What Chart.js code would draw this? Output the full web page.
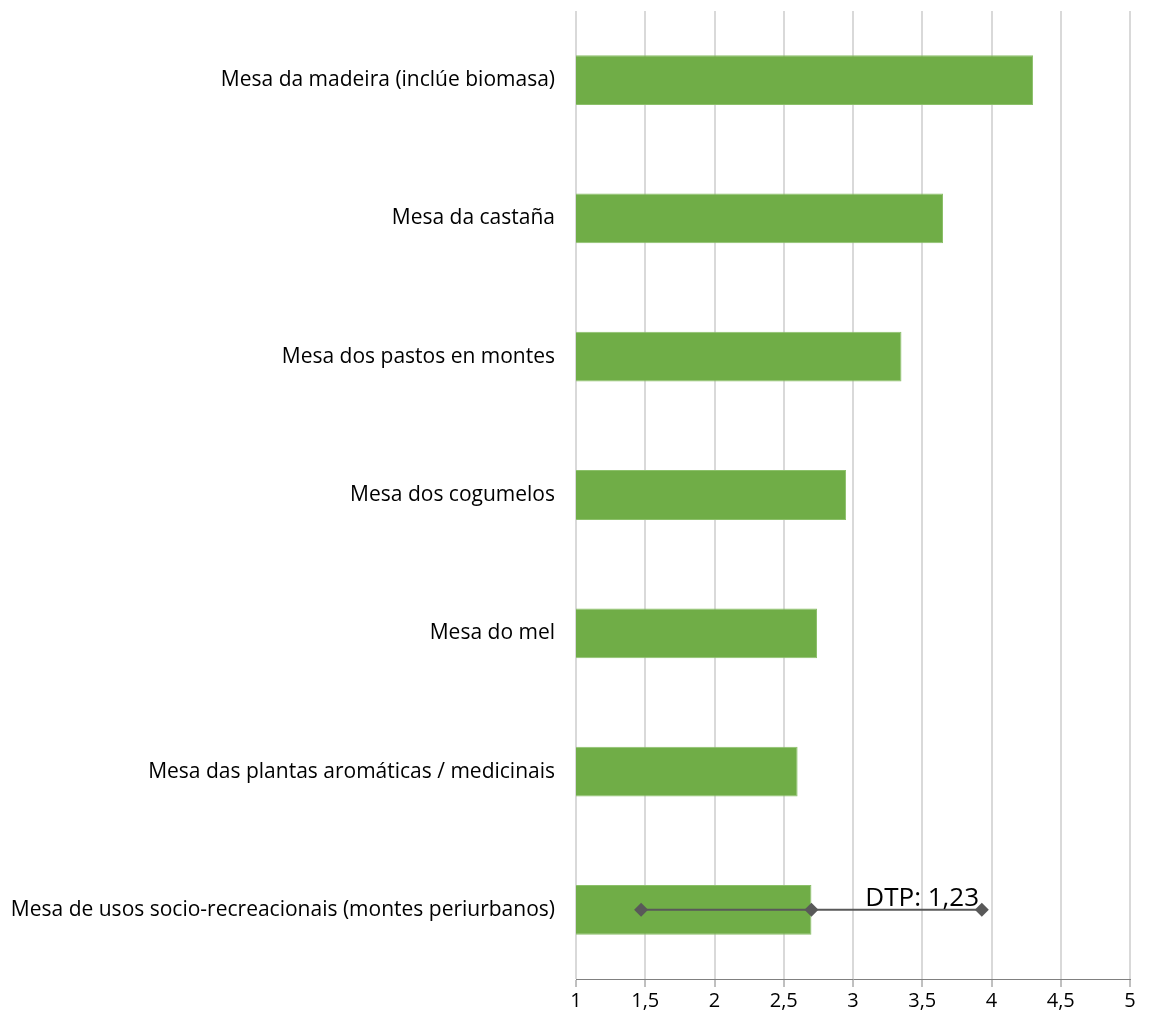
<!DOCTYPE html>
<html>
<head>
<meta charset="utf-8">
<script src="https://cdn.jsdelivr.net/npm/chart.js@4"></script>
<style>
  html, body { margin: 0; padding: 0; background: #fff; }
  #wrap { width: 1151px; height: 1020px; }
</style>
</head>
<body>
<div id="wrap"><canvas id="c" width="1151" height="1020"></canvas></div>
<script>
var categories = [
    "Mesa da madeira (inclúe biomasa)",
    "Mesa da castaña",
    "Mesa dos pastos en montes",
    "Mesa dos cogumelos",
    "Mesa do mel",
    "Mesa das plantas aromáticas / medicinais",
    "Mesa de usos socio-recreacionais (montes periurbanos)"
];
var means = [4.30, 3.65, 3.35, 2.95, 2.74, 2.60, 2.70];
var dtpCategory = 6;
var dtp = 1.23;
var dtpLabel = "DTP: 1,23";
var xMin = 1, xMax = 5, xStep = 0.5;

var errPoints = [
    { x: means[dtpCategory] - dtp, y: categories[dtpCategory] },
    { x: means[dtpCategory], y: categories[dtpCategory] },
    { x: means[dtpCategory] + dtp, y: categories[dtpCategory] }
];

var font = "'Open Sans', sans-serif";

// text label above the deviation line
var dtpText = {
    id: 'dtpText',
    afterDatasetsDraw: function(chart) {
        var c = chart.ctx;
        var xs = chart.scales.x, ys = chart.scales.y;
        var px = xs.getPixelForValue(means[dtpCategory] + dtp * 0.65);
        var py = ys.getPixelForValue(dtpCategory);
        c.save();
        c.font = "26px " + font;
        c.fillStyle = "#000";
        c.textAlign = "center";
        c.textBaseline = "alphabetic";
        c.fillText(dtpLabel, px, py - 4);
        c.restore();
    }
};

var ctx = document.getElementById("c").getContext("2d");
var chart = new Chart(ctx, {
    data: {
        labels: categories,
        datasets: [{
            type: 'scatter',
            data: errPoints,
            showLine: true,
            borderColor: '#595959',
            borderWidth: 2,
            backgroundColor: '#595959',
            pointStyle: 'rectRot',
            pointRadius: 7,
            pointBorderWidth: 0,
            order: 0
        }, {
            type: 'bar',
            data: means,
            backgroundColor: '#70AD47',
            borderColor: '#8CC06A',
            borderWidth: 1,
            barPercentage: 0.36,
            categoryPercentage: 1,
            order: 1
        }]
    },
    options: {
        indexAxis: 'y',
        responsive: false,
        animation: false,
        layout: { padding: { top: 11, right: 21, left: 0, bottom: 0 } },
        plugins: {
            legend: { display: false },
            tooltip: { enabled: false }
        },
        scales: {
            x: {
                type: 'linear',
                min: xMin,
                max: xMax,
                ticks: {
                    stepSize: xStep,
                    color: '#000',
                    font: { family: font, size: 20 },
                    padding: 2,
                    callback: function(v) { return String(v).replace('.', ','); }
                },
                grid: {
                    color: '#D9D9D9',
                    lineWidth: 2,
                    tickLength: 8,
                    tickColor: '#808080',
                    tickWidth: 1
                },
                border: { color: '#808080', width: 1 },
                afterFit: function(s) { s.height = 41; }
            },
            y: {
                type: 'category',
                offset: true,
                grid: { display: false, drawTicks: false },
                border: { display: false },
                ticks: {
                    color: '#000',
                    font: { family: font, size: 21 },
                    padding: 21
                },
                afterFit: function(s) {
                    s.width = 576;
                    s.paddingTop = 0;
                    s.paddingBottom = 0;
                }
            }
        }
    },
    plugins: [dtpText]
});
</script>
</body>
</html>
